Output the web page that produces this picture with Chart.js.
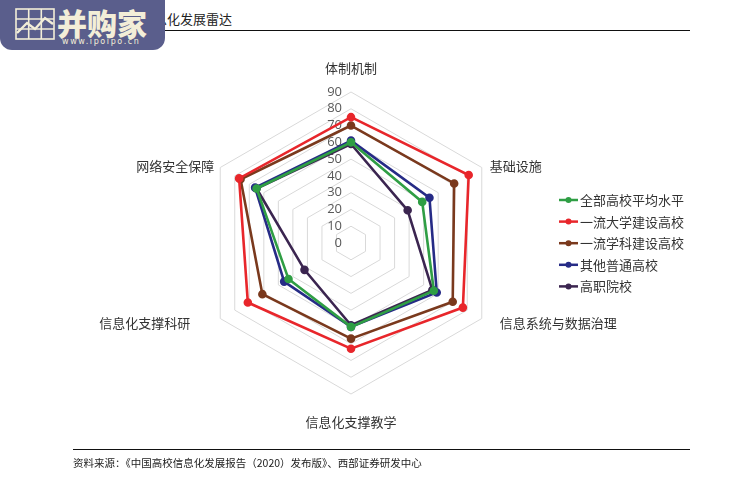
<!DOCTYPE html>
<html lang="zh">
<head>
<meta charset="UTF-8">
<title>高校信息化发展雷达</title>
<script src="https://cdn.jsdelivr.net/npm/chart.js"></script>
<style>
  body {
    margin: 0;
    width: 732px;
    height: 478px;
    background: #fff;
    font-family: "Noto Sans CJK SC", sans-serif;
    position: relative;
    overflow: hidden;
  }
  #radar { position: absolute; left: 0; top: 0; }
  .page-title {
    position: absolute;
    right: 500px;
    top: 9px;
    font-size: 13px;
    color: #222;
    white-space: nowrap;
  }
  .top-rule {
    position: absolute;
    left: 70px; top: 30px; width: 620px;
    border-top: 1.5px solid #111;
  }
  .bottom-rule {
    position: absolute;
    left: 73px; top: 449px; width: 617px;
    border-top: 1px solid #111;
  }
  .source {
    position: absolute;
    left: 73px; top: 455px;
    font-size: 10.5px;
    color: #222;
    white-space: nowrap;
  }
  .logo {
    position: absolute;
    left: 0; top: 0;
    width: 165px; height: 50px;
    background: #5a5e8c;
    border-radius: 0 0 12px 12px;
    color: #f3eed8;
  }
  .logo svg { position: absolute; left: 15px; top: 8px; }
  .logo .brand {
    position: absolute; left: 57px; top: 7px;
    font-size: 30px; line-height: 1; font-weight: 900;
  }
  .logo .url {
    position: absolute; left: 62px; top: 38px;
    font-family: "DejaVu Sans", sans-serif;
    font-size: 8px; line-height: 1; letter-spacing: 1.6px;
  }
</style>
</head>
<body>

<div class="page-title">图：高校信息化发展雷达</div>
<div class="top-rule"></div>
<canvas id="radar" width="732" height="478"></canvas>
<div class="bottom-rule"></div>
<div class="source">资料来源：《中国高校信息化发展报告（2020）发布版》、西部证券研发中心</div>

<div class="logo">
  <svg width="40" height="32" viewBox="0 0 40 32">
    <g stroke="#f3eed8" stroke-width="1.6" fill="none">
      <rect x="1" y="1" width="38" height="30"/>
      <line x1="13.7" y1="1" x2="13.7" y2="31"/>
      <line x1="26.3" y1="1" x2="26.3" y2="31"/>
      <line x1="1" y1="11" x2="39" y2="11"/>
      <line x1="1" y1="21" x2="39" y2="21"/>
      <polyline points="2,25 12,15 20,21 30,10 38,16" stroke-width="2.4"/>
    </g>
  </svg>
  <div class="brand">并购家</div>
  <div class="url">www.ipoipo.cn</div>
</div>

<script>
  // axes, clockwise from the top
  const axisLabels = ["体制机制", "基础设施", "信息系统与数据治理", "信息化支撑教学", "信息化支撑科研", "网络安全保障"];
  const seriesNames = ["全部高校平均水平", "一流大学建设高校", "一流学科建设高校", "其他普通高校", "高职院校"];
  const seriesColors = ["#2f9e44", "#e8262b", "#7a391d", "#262b86", "#3b2550"];

  const allAvg     = [60, 49, 57, 50, 43, 65];
  const worldUni   = [75, 81, 77, 63, 71, 77];
  const worldSubj  = [70, 71, 70, 57, 61, 76];
  const otherUni   = [61, 54, 59, 50, 46, 66];
  const vocational = [59, 39, 56, 49, 32, 65];
  const seriesValues = [allAvg, worldUni, worldSubj, otherUni, vocational];

  const tickValues = [0, 10, 20, 30, 40, 50, 60, 70, 80, 90];

  // tick numbers sit left of the vertical axis, under the lines
  const overlay = {
    id: "overlay",
    beforeDatasetsDraw(chart) {
      const r = chart.scales.r;
      const ctx = chart.ctx;
      ctx.save();
      ctx.font = '13px "Open Sans", sans-serif';
      ctx.fillStyle = "#595959";
      ctx.textAlign = "right";
      ctx.textBaseline = "middle";
      tickValues.forEach(v => {
        ctx.fillText(String(v), r.xCenter - 9, r.yCenter - r.getDistanceFromCenterForValue(v));
      });
      ctx.restore();
    },
    afterDraw(chart) {
      const r = chart.scales.r;
      const ctx = chart.ctx;
      const outer = r.getDistanceFromCenterForValue(90);
      // label anchors: [dx, dy, align] from each outer vertex
      const place = [[0, -24, "center"], [8, -1, "left"], [18, 5, "left"],
                     [0, 28, "center"], [-30, 5, "right"], [-6, -1, "right"]];
      ctx.save();
      ctx.font = '13px "Noto Sans CJK SC", sans-serif';
      ctx.fillStyle = "#333";
      ctx.textBaseline = "middle";
      axisLabels.forEach((label, i) => {
        const p = r.getPointPosition(i, outer);
        ctx.textAlign = place[i][2];
        ctx.fillText(label, p.x + place[i][0], p.y + place[i][1]);
      });

      // legend
      ctx.textAlign = "left";
      chart.data.datasets.forEach((ds, i) => {
        const y = 200 + i * 21.6;
        ctx.strokeStyle = ds.borderColor;
        ctx.lineWidth = 2.5;
        ctx.beginPath();
        ctx.moveTo(559, y);
        ctx.lineTo(578, y);
        ctx.stroke();
        ctx.fillStyle = ds.borderColor;
        ctx.beginPath();
        ctx.arc(568.5, y, 3, 0, Math.PI * 2);
        ctx.fill();
        ctx.fillStyle = "#333";
        ctx.fillText(ds.label, 580, y);
      });
      ctx.restore();
    }
  };

  new Chart(document.getElementById("radar"), {
    type: "radar",
    data: {
      labels: axisLabels,
      datasets: seriesNames.map((name, i) => ({
        label: name,
        data: seriesValues[i],
        borderColor: seriesColors[i],
        backgroundColor: seriesColors[i],
        pointBackgroundColor: seriesColors[i],
        pointBorderColor: seriesColors[i],
        borderWidth: 2.6,
        pointRadius: 3,
        fill: false
      }))
    },
    options: {
      responsive: false,
      animation: false,
      layout: { padding: { left: 200, right: 230, top: 92, bottom: 84 } },
      plugins: { legend: { display: false }, tooltip: { enabled: false } },
      scales: {
        r: {
          min: 0,
          max: 90,
          ticks: { display: false, stepSize: 10 },
          grid: { color: "#d9d9d9", lineWidth: 1 },
          angleLines: { display: false },
          pointLabels: { display: false }
        }
      }
    },
    plugins: [overlay]
  });
</script>
</body>
</html>
